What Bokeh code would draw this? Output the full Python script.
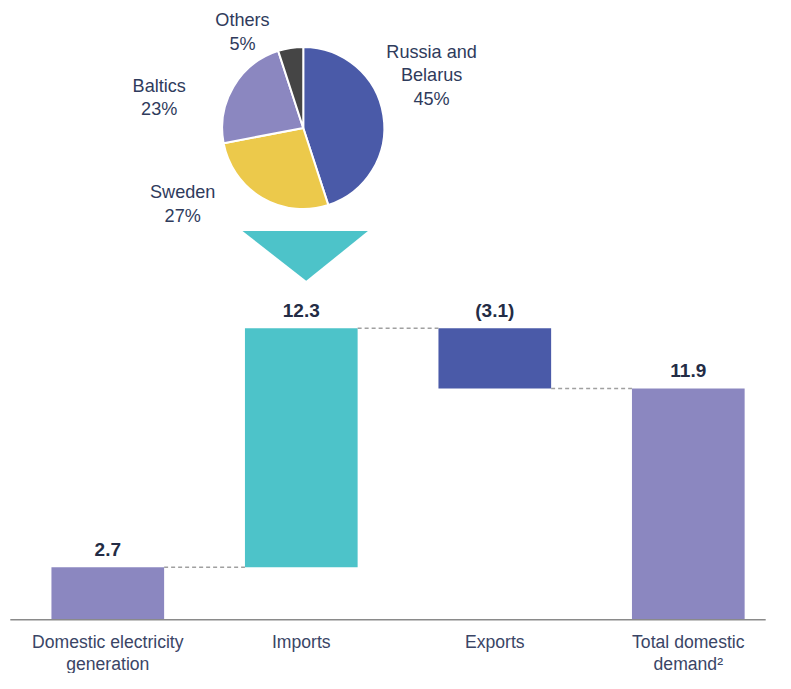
import math
from bokeh.plotting import figure
from bokeh.models import ColumnDataSource, Range1d
from bokeh.core.properties import value
from bokeh.embed import file_html
from bokeh.resources import INLINE

# ---- data ----
categories = ["Domestic electricity\ngeneration", "Imports", "Exports", "Total domestic\ndemand\u00b2"]
steps = [2.7, 12.3, -3.1, 11.9]
is_total = [False, False, False, True]
value_labels = ["2.7", "12.3", "(3.1)", "11.9"]
bar_colors = ["#8b87c0", "#4dc3c9", "#4a5aa8", "#8b87c0"]

pie_names = ["Russia and\nBelarus", "Sweden", "Baltics", "Others"]
pie_shares = [45, 27, 23, 5]
pie_colors = ["#4a5aa8", "#ecc94b", "#8b87c0", "#454545"]

# ---- layout ----
W, H = 775, 673
REF_W, REF_H = 791, 689
SC = H / REF_H          # screen scale for sizes
PX_X = 197.5            # reference pixels per category step
PX_Y = 19.9             # reference pixels per unit
x0 = -109.5 / PX_X
y1 = 634 / PX_Y
FONT = value("Liberation Sans")

def dx(px):
    return px / PX_X

def dy(px):
    return px / PX_Y

def fs(px):
    return f"{px * SC:.1f}px"

p = figure(width=W, height=H, output_backend="svg", toolbar_location=None,
           x_range=Range1d(x0, x0 + REF_W / PX_X), y_range=Range1d(y1 - REF_H / PX_Y, y1),
           min_border=0, outline_line_color=None)
p.axis.visible = False
p.grid.visible = False
p.background_fill_color = "white"

# waterfall geometry
bottoms, tops, levels = [], [], []
run = 0.0
for s, t in zip(steps, is_total):
    if t:
        bottoms.append(0.0)
        tops.append(s)
        run = s
    else:
        bottoms.append(min(run, run + s))
        tops.append(max(run, run + s))
        run = run + s
    levels.append(run)
xs = list(range(len(steps)))
bw = dx(115)

src = ColumnDataSource(dict(x=xs, bottom=bottoms, top=tops, color=bar_colors))
p.vbar(x="x", width=bw, bottom="bottom", top="top", fill_color="color",
       line_color=None, source=src)

# connectors
cx0 = [xs[i] + bw / 2 for i in range(len(xs) - 1)]
cx1 = [xs[i + 1] - bw / 2 for i in range(len(xs) - 1)]
cy = levels[:-1]
p.segment(x0=cx0, y0=cy, x1=cx1, y1=cy, line_color="#a0a0a0", line_width=1.5,
          line_dash="4 3")

# baseline
p.segment(x0=[x0 + dx(10)], y0=[0], x1=[x0 + dx(781)], y1=[0],
          line_color="#8a8a8a", line_width=1.5)

# value labels
label_y = [t + dy(18) for t in tops]
p.text(x=xs, y=label_y, text=value_labels, text_align="center",
       text_baseline="middle", text_font=FONT, text_font_size=fs(19.5),
       text_font_style="bold", text_color="#232c45")

# category labels
p.text(x=xs, y=[-dy(13)] * len(xs), text=categories, text_align="center",
       text_baseline="top", text_font=FONT, text_font_size=fs(18),
       text_color="#3a4566", text_line_height=1.1)

# pie
pcx, pcy = 1 + dx(2), y1 - dy(130.5)
total = sum(pie_shares)
starts, ends = [], []
a = math.pi / 2
for s in pie_shares:
    starts.append(a)
    a = a - s / total * 2 * math.pi
    ends.append(a)
p.wedge(x=[pcx] * len(pie_shares), y=[pcy] * len(pie_shares), radius=83 * SC,
        radius_units="screen", start_angle=starts, end_angle=ends,
        direction="clock", fill_color=pie_colors, line_color="white", line_width=2)

# pie labels (offsets from pie centre, in reference pixels)
offs = [(131, -54), (-123, 78), (-147, -31), (-62, -98.5)]
plx = [pcx + dx(o[0]) for o in offs]
ply = [pcy - dy(o[1]) for o in offs]
ptxt = [f"{n}\n{s}%" for n, s in zip(pie_names, pie_shares)]
p.text(x=plx, y=ply, text=ptxt, text_align="center", text_baseline="middle",
       text_font=FONT, text_font_size=fs(18.5), text_color="#2f3b5c",
       text_line_height=1.18)

# arrow triangle under pie
tri_x = [pcx - dx(62), pcx + dx(66), pcx + dx(3)]
tri_top = pcy - dy(105.5)
tri_y = [tri_top, tri_top, tri_top - dy(51)]
p.patch(tri_x, tri_y, fill_color="#4dc3c9", line_color=None)

open("out.html", "w").write(file_html(p, INLINE))
